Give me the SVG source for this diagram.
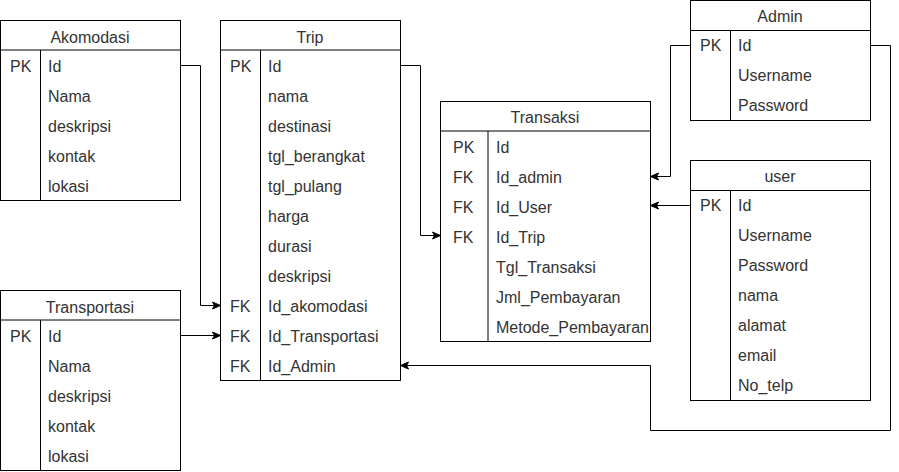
<svg xmlns="http://www.w3.org/2000/svg" width="899" height="472" viewBox="0 0 899 472">
<defs>
<style>
.box{fill:#fff;stroke:#000;stroke-width:1}
.ln{fill:none;stroke:#000;stroke-width:1}
text{font-family:"Liberation Sans",Arial,sans-serif;font-size:16px;fill:#333}
.h{text-anchor:middle}
.conn{fill:none;stroke:#000;stroke-width:1;marker-end:url(#arr)}
</style>
<marker id="arr" markerUnits="userSpaceOnUse" markerWidth="10" markerHeight="10" viewBox="0 0 10 10" refX="9" refY="5" orient="auto">
<path d="M1,1.5 L9,5 L1,8.5 L3,5 Z" fill="#000" stroke="#000" stroke-width="1"/>
</marker>
</defs>
<rect width="899" height="472" fill="#fff"/>

<g id="akomodasi">
<rect class="box" x="0.5" y="20.5" width="180" height="180"/>
<line class="ln" x1="0.5" y1="50" x2="180.5" y2="50"/>
<line class="ln" x1="40.5" y1="50" x2="40.5" y2="200.5"/>
<text class="h" x="90" y="43">Akomodasi</text>
<text x="10" y="72">PK</text>
<text x="48" y="72">Id</text>
<text x="48" y="102">Nama</text>
<text x="48" y="132">deskripsi</text>
<text x="48" y="162">kontak</text>
<text x="48" y="192">lokasi</text>
</g>

<g id="transportasi">
<rect class="box" x="0.5" y="290.5" width="180" height="180"/>
<line class="ln" x1="0.5" y1="320" x2="180.5" y2="320"/>
<line class="ln" x1="40.5" y1="320" x2="40.5" y2="470.5"/>
<text class="h" x="90" y="313">Transportasi</text>
<text x="10" y="342">PK</text>
<text x="48" y="342">Id</text>
<text x="48" y="372">Nama</text>
<text x="48" y="402">deskripsi</text>
<text x="48" y="432">kontak</text>
<text x="48" y="462">lokasi</text>
</g>

<g id="trip">
<rect class="box" x="220.5" y="20.5" width="180" height="360"/>
<line class="ln" x1="220.5" y1="50" x2="400.5" y2="50"/>
<line class="ln" x1="260.5" y1="50" x2="260.5" y2="380.5"/>
<text class="h" x="310" y="43">Trip</text>
<text x="230" y="72">PK</text>
<text x="268" y="72">Id</text>
<text x="268" y="102">nama</text>
<text x="268" y="132">destinasi</text>
<text x="268" y="162">tgl_berangkat</text>
<text x="268" y="192">tgl_pulang</text>
<text x="268" y="222">harga</text>
<text x="268" y="252">durasi</text>
<text x="268" y="282">deskripsi</text>
<text x="230" y="312">FK</text>
<text x="268" y="312">Id_akomodasi</text>
<text x="230" y="342">FK</text>
<text x="268" y="342">Id_Transportasi</text>
<text x="230" y="372">FK</text>
<text x="268" y="372">Id_Admin</text>
</g>

<g id="transaksi">
<rect class="box" x="440.5" y="101.5" width="210" height="240"/>
<line class="ln" x1="440.5" y1="131" x2="650.5" y2="131"/>
<line class="ln" x1="488" y1="131" x2="488" y2="341.5"/>
<text class="h" x="545" y="123">Transaksi</text>
<text x="453" y="153">PK</text>
<text x="496" y="153">Id</text>
<text x="453" y="183">FK</text>
<text x="496" y="183">Id_admin</text>
<text x="453" y="213">FK</text>
<text x="496" y="213">Id_User</text>
<text x="453" y="243">FK</text>
<text x="496" y="243">Id_Trip</text>
<text x="496" y="273">Tgl_Transaksi</text>
<text x="496" y="303">Jml_Pembayaran</text>
<text x="496" y="333">Metode_Pembayaran</text>
</g>

<g id="admin">
<rect class="box" x="690.5" y="0.5" width="180" height="120"/>
<line class="ln" x1="690.5" y1="30.5" x2="870.5" y2="30.5"/>
<line class="ln" x1="730.5" y1="30.5" x2="730.5" y2="120.5"/>
<text class="h" x="780" y="22">Admin</text>
<text x="700" y="51">PK</text>
<text x="738" y="51">Id</text>
<text x="738" y="81">Username</text>
<text x="738" y="111">Password</text>
</g>

<g id="user">
<rect class="box" x="690.5" y="160.5" width="180" height="240"/>
<line class="ln" x1="690.5" y1="190.5" x2="870.5" y2="190.5"/>
<line class="ln" x1="730.5" y1="190.5" x2="730.5" y2="400.5"/>
<text class="h" x="780" y="182">user</text>
<text x="700" y="211">PK</text>
<text x="738" y="211">Id</text>
<text x="738" y="241">Username</text>
<text x="738" y="271">Password</text>
<text x="738" y="301">nama</text>
<text x="738" y="331">alamat</text>
<text x="738" y="361">email</text>
<text x="738" y="391">No_telp</text>
</g>

<g id="connectors">
<path class="conn" d="M180.5,65.5 H200.5 V305.5 H220.5"/>
<path class="conn" d="M180.5,335.5 H220.5"/>
<path class="conn" d="M400.5,65.5 H420.5 V235.5 H440.5"/>
<path class="conn" d="M690.5,45.5 H670.5 V176.5 H650.5"/>
<path class="conn" d="M690.5,205.5 H650.5"/>
<path class="conn" d="M870.5,45.5 H890.5 V430.5 H650.5 V365.5 H400.5"/>
</g>
</svg>
